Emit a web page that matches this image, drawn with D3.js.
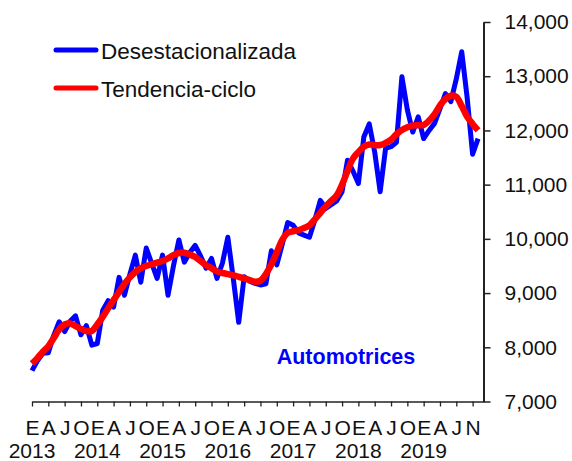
<!DOCTYPE html>
<html>
<head>
<meta charset="utf-8">
<script src="https://cdn.jsdelivr.net/npm/d3@7"></script>
<style>
  body { margin: 0; background: #fff; }
  svg { display: block; font-family: "Liberation Sans", Arial, sans-serif; }
</style>
</head>
<body>
<svg id="chart" width="572" height="461"></svg>
<script>
// Datos mensuales, enero 2013 a noviembre 2019
var years = ['2013', '2014', '2015', '2016', '2017', '2018', '2019']
var tickLetters = ['E', 'A', 'J', 'O', 'E', 'A', 'J', 'O', 'E', 'A', 'J', 'O', 'E', 'A', 'J', 'O',
  'E', 'A', 'J', 'O', 'E', 'A', 'J', 'O', 'E', 'A', 'J', 'N']
var yTicks = [7000, 8000, 9000, 10000, 11000, 12000, 13000, 14000]

var desestacionalizada = [
  7570, 7750, 7890, 7900, 8220, 8470, 8290, 8480, 8580, 8230, 8400, 8040,
  8070, 8680, 8860, 8740, 9290, 8960, 9350, 9700, 9200, 9830, 9550, 9270,
  9700, 8960, 9500, 9980, 9570, 9750, 9880, 9680, 9460, 9640, 9270, 9550,
  10030, 9270, 8460, 9300, 9220, 9180, 9150, 9170, 9780, 9520, 9900, 10300,
  10250, 10110, 10070, 10030, 10350, 10710, 10560, 10630, 10700, 10870, 11450, 11250,
  11020, 11880, 12120, 11600, 10870, 11670, 11700, 11780, 12990, 12380, 11970, 12250,
  11850, 12000, 12130, 12400, 12680, 12530, 12950, 13450, 12600, 11560, 11850
]
var tendencia = [
  7700, 7800, 7920, 8020, 8170, 8330, 8420, 8440, 8390, 8340, 8300, 8300,
  8420, 8560, 8720, 8870, 9020, 9170, 9290, 9390, 9460, 9500, 9530, 9560,
  9590, 9640, 9700, 9740, 9745, 9710, 9665, 9590, 9515, 9460, 9400, 9370,
  9350, 9330, 9300, 9270, 9240, 9210, 9230, 9350, 9530, 9750, 9980, 10110,
  10140, 10160, 10200, 10250, 10360, 10480, 10600, 10700, 10800, 11000, 11250, 11480,
  11600, 11700, 11740, 11730, 11730, 11770, 11830, 11930, 12010, 12060, 12090, 12095,
  12100, 12180, 12300, 12460, 12580, 12640, 12620, 12450, 12250, 12120, 12000
]

var svg = d3.select('#chart')

var x = d3.scaleLinear().domain([0, 83]).range([32, 483.5])
var y = d3.scaleLinear().domain([7000, 14000]).range([401.5, 22])

// eje x
var tickIdx = d3.range(0, 82, 3)
var xAxis = svg.append('g')
  .attr('transform', 'translate(0,401.5)')
  .call(d3.axisBottom(x).tickValues(tickIdx).tickSize(5).tickSizeOuter(0)
    .tickFormat(function (d, i) { return tickLetters[i] }))
xAxis.select('.domain').attr('stroke', '#222').attr('stroke-width', 1.3)
xAxis.selectAll('.tick line').attr('stroke', '#222').attr('stroke-width', 1.3)
xAxis.selectAll('.tick text')
  .attr('y', 33).attr('dy', 0)
  .attr('font-size', 21).attr('fill', '#111')

svg.append('g').selectAll('text')
  .data(years)
  .enter()
  .append('text')
  .attr('x', function (d, i) { return x(i * 12) })
  .attr('y', 458)
  .attr('text-anchor', 'middle')
  .attr('font-size', 21)
  .attr('fill', '#111')
  .text(function (d) { return d })

// eje y a la derecha
var yAxis = svg.append('g')
  .attr('transform', 'translate(483.5,0)')
  .call(d3.axisRight(y).tickValues(yTicks).tickSize(7).tickSizeOuter(0).tickPadding(14)
    .tickFormat(d3.format(',')))
yAxis.select('.domain').attr('stroke', '#222').attr('stroke-width', 2)
yAxis.selectAll('.tick line').attr('stroke', '#222').attr('stroke-width', 1.5)
yAxis.selectAll('.tick text').attr('font-size', 21).attr('fill', '#111')

// series
var lineStraight = d3.line()
  .x(function (d, i) { return x(i) })
  .y(function (d) { return y(d) })
var lineSmooth = d3.line()
  .x(function (d, i) { return x(i) })
  .y(function (d) { return y(d) })
  .curve(d3.curveCatmullRom)

svg.append('path')
  .attr('d', lineStraight(desestacionalizada))
  .attr('fill', 'none')
  .attr('stroke', '#0000ff')
  .attr('stroke-width', 5)
  .attr('stroke-linejoin', 'round')

svg.append('path')
  .attr('d', lineSmooth(tendencia))
  .attr('fill', 'none')
  .attr('stroke', '#ff0000')
  .attr('stroke-width', 6.5)
  .attr('stroke-linejoin', 'round')

// leyenda
var legendItems = [
  { name: 'Desestacionalizada', color: '#0000ff' },
  { name: 'Tendencia-ciclo', color: '#ff0000' }
]
var legend = svg.append('g')
legend.selectAll('g')
  .data(legendItems)
  .enter()
  .append('g')
  .attr('transform', function (d, i) { return 'translate(0,' + (50 + i * 38) + ')' })
  .each(function (d) {
    var item = d3.select(this)
    item.append('line')
      .attr('x1', 56).attr('x2', 96)
      .attr('stroke', d.color).attr('stroke-width', 5)
      .attr('stroke-linecap', 'round')
    item.append('text')
      .attr('x', 101)
      .attr('y', 9)
      .attr('font-size', 22.5)
      .attr('fill', '#111')
      .text(d.name)
  })

svg.append('text')
  .attr('x', 346)
  .attr('y', 364)
  .attr('text-anchor', 'middle')
  .attr('font-size', 21.5)
  .attr('font-weight', 'bold')
  .attr('fill', '#0000ff')
  .text('Automotrices')
</script>
</body>
</html>
